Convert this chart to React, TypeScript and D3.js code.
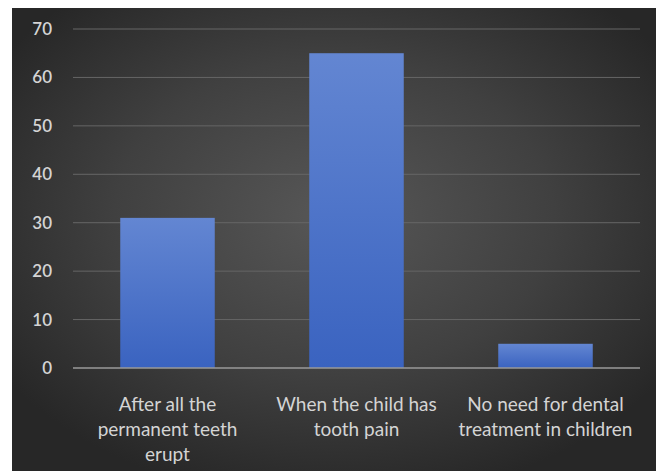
import React from "react";
import * as d3 from "d3";

const categories = [
  "After all the permanent teeth erupt",
  "When the child has tooth pain",
  "No need for dental treatment in children",
];
const categoryLines = [
  ["After all the", "permanent teeth", "erupt"],
  ["When the child has", "tooth pain"],
  ["No need for dental", "treatment in children"],
];
const values = [31, 65, 5];
const yTicks = [0, 10, 20, 30, 40, 50, 60, 70];

const W = 657;
const H = 471;
const panel = { x: 12, y: 8, w: 644, h: 463 };
const plot = { left: 73, right: 640, top: 29, bottom: 368 };
const FONT = "Lato, 'Open Sans', sans-serif";

export default function App() {
  const x = d3
    .scaleBand<string>()
    .domain(categories)
    .range([plot.left, plot.right])
    .paddingInner(0.5)
    .paddingOuter(0.25);
  const y = d3.scaleLinear().domain([0, 70]).range([plot.bottom, plot.top]);

  return (
    <svg
      width={W}
      height={H}
      style={{ position: "absolute", left: 0, top: 0, display: "block" }}
    >
      <defs>
        <radialGradient id="bg" cx="50%" cy="45%" r="62%">
          <stop offset="0%" stopColor="#575757" />
          <stop offset="55%" stopColor="#404040" />
          <stop offset="100%" stopColor="#272727" />
        </radialGradient>
        <linearGradient id="barFill" x1="0" y1="0" x2="0" y2="1">
          <stop offset="0%" stopColor="#6386d2" />
          <stop offset="100%" stopColor="#3a63c0" />
        </linearGradient>
      </defs>
      <rect x={0} y={0} width={W} height={H} fill="#ffffff" />
      <rect x={panel.x} y={panel.y} width={panel.w} height={panel.h} fill="url(#bg)" />

      {/* horizontal gridlines */}
      {yTicks
        .filter((t) => t !== 0)
        .map((t) => (
          <line
            key={t}
            x1={plot.left}
            x2={plot.right}
            y1={y(t)}
            y2={y(t)}
            stroke="#666666"
            strokeWidth={1}
          />
        ))}

      {/* bars */}
      {categories.map((c, i) => (
        <rect
          key={c}
          x={x(c)}
          y={y(values[i])}
          width={x.bandwidth()}
          height={y(0) - y(values[i])}
          fill="url(#barFill)"
        />
      ))}

      {/* baseline */}
      <line
        x1={plot.left}
        x2={plot.right}
        y1={y(0)}
        y2={y(0)}
        stroke="#9a9a9a"
        strokeWidth={1.5}
      />

      {/* y tick labels */}
      {yTicks.map((t) => (
        <text
          key={t}
          x={52}
          y={y(t)}
          dy="0.35em"
          textAnchor="end"
          fill="#d4d4d4"
          fontFamily={FONT}
          fontSize={17}
          fontWeight={600}
        >
          {t}
        </text>
      ))}

      {/* category labels */}
      {categories.map((c, i) => (
        <text
          key={c}
          x={(x(c) ?? 0) + x.bandwidth() / 2}
          y={411}
          textAnchor="middle"
          fill="#d4d4d4"
          fontFamily={FONT}
          fontSize={19}
        >
          {categoryLines[i].map((line, j) => (
            <tspan key={j} x={(x(c) ?? 0) + x.bandwidth() / 2} dy={j === 0 ? 0 : 25}>
              {line}
            </tspan>
          ))}
        </text>
      ))}
    </svg>
  );
}
